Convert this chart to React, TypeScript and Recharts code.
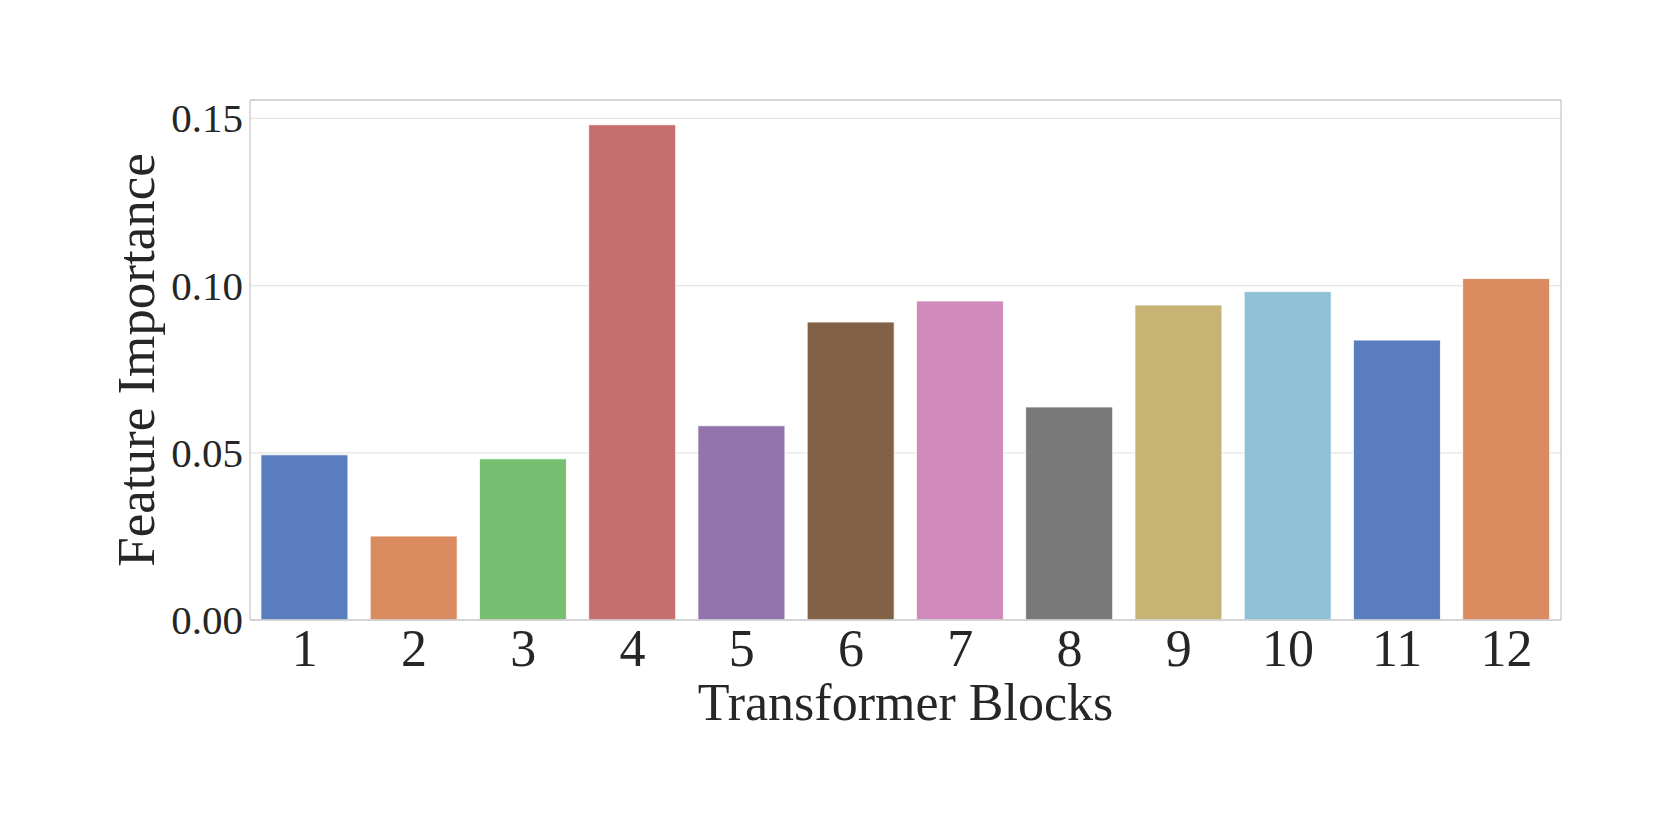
import { BarChart, Bar, XAxis, YAxis, CartesianGrid, Cell, Label } from "recharts";

const blocks = ["1", "2", "3", "4", "5", "6", "7", "8", "9", "10", "11", "12"];
const importance = [
  0.0494, 0.0251, 0.0482, 0.1481, 0.0581, 0.0891, 0.0954, 0.0637, 0.0942,
  0.0982, 0.0837, 0.1021,
];
const barColors = [
  "#597DBF", "#DA8B5F", "#76BF71", "#C76E6E", "#9475AB", "#826246",
  "#D08ABB", "#797979", "#C7B475", "#8EC1D6", "#597DBF", "#DA8B5F",
];
const yTicks = [0, 0.05, 0.1, 0.15];

const data = blocks.map((b, i) => ({ block: b, value: importance[i] }));

const FONT = "'Liberation Serif', 'Times New Roman', serif";
const INK = "#262626";
const FRAME = "#cccccc";

function XTick({ x, y, payload }: any) {
  return (
    <text x={x} y={y + 46} textAnchor="middle" fontFamily={FONT} fontSize={52} fill={INK}>
      {payload.value}
    </text>
  );
}

function YTick({ x, y, payload }: any) {
  return (
    <text x={x - 7} y={y + 14} textAnchor="end" fontFamily={FONT} fontSize={41} fill={INK}>
      {Number(payload.value).toFixed(2)}
    </text>
  );
}

export default function App() {
  return (
    <div style={{ position: "absolute", left: 0, top: 0, background: "#fff" }}>
      <BarChart
        width={1661}
        height={830}
        data={data}
        margin={{ top: 90, right: 90, bottom: 150, left: 170 }}
        barCategoryGap="10%"
      >
        <CartesianGrid yAxisId="left" vertical={false} stroke="#e5e5e5" strokeWidth={1.3} />
        <XAxis
          dataKey="block"
          height={60}
          tickSize={0}
          tickMargin={0}
          tickLine={false}
          axisLine={{ stroke: FRAME, strokeWidth: 1.4 }}
          tick={<XTick />}
          interval={0}
        >
          <Label
            content={({ viewBox }: any) => (
              <text
                x={viewBox.x + viewBox.width / 2}
                y={720}
                textAnchor="middle"
                fontFamily={FONT}
                fontSize={52}
                fill={INK}
              >
                Transformer Blocks
              </text>
            )}
          />
        </XAxis>
        <XAxis
          xAxisId="top"
          dataKey="block"
          orientation="top"
          height={10}
          tick={false}
          tickLine={false}
          axisLine={{ stroke: FRAME, strokeWidth: 1.4 }}
        />
        <YAxis
          yAxisId="left"
          width={80}
          domain={[0, 0.1555]}
          ticks={yTicks}
          tickSize={0}
          tickMargin={0}
          tickLine={false}
          axisLine={{ stroke: FRAME, strokeWidth: 1.4 }}
          tick={<YTick />}
        >
          <Label
            content={({ viewBox }: any) => {
              const cy = viewBox.y + viewBox.height / 2;
              return (
                <text
                  x={154}
                  y={cy}
                  textAnchor="middle"
                  transform={`rotate(-90, 154, ${cy})`}
                  fontFamily={FONT}
                  fontSize={53}
                  fill={INK}
                >
                  Feature Importance
                </text>
              );
            }}
          />
        </YAxis>
        <YAxis
          yAxisId="right"
          orientation="right"
          width={10}
          domain={[0, 0.1555]}
          tick={false}
          tickLine={false}
          axisLine={{ stroke: FRAME, strokeWidth: 1.4 }}
        />
        <Bar dataKey="value" yAxisId="left" isAnimationActive={false} stroke="#ffffff" strokeWidth={0.8}>
          {data.map((d, i) => (
            <Cell key={d.block} fill={barColors[i]} />
          ))}
        </Bar>
      </BarChart>
    </div>
  );
}
